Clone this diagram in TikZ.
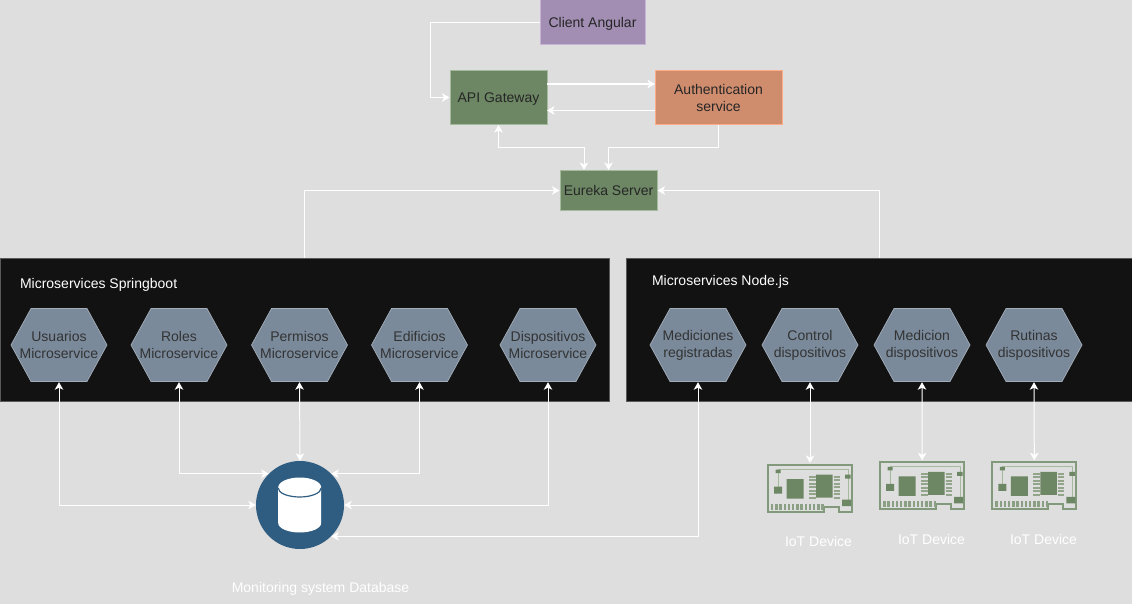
\documentclass[tikz,border=0pt]{standalone}
\usepackage{fontspec}
\setmainfont{Liberation Sans}
\usetikzlibrary{arrows.meta}
\definecolor{pagegray}{HTML}{DEDEDE}
\definecolor{chipgreen}{HTML}{6D8764}
\definecolor{chiplight}{HTML}{A5BA9D}
\definecolor{hexfill}{HTML}{7A8A9B}
\definecolor{clientfill}{HTML}{A28DB3}
\definecolor{clientline}{HTML}{C6B3D6}
\definecolor{authfill}{HTML}{D08D6E}
\definecolor{authline}{HTML}{FFAB87}
\definecolor{dbblue}{HTML}{2F5D82}
\tikzset{
  wire/.style={draw=white, line width=1pt, -{Stealth[length=7.5pt,width=8.5pt,inset=2pt]}},
  dblwire/.style={wire, {Stealth[length=7.5pt,width=8.5pt,inset=2pt]}-{Stealth[length=7.5pt,width=8.5pt,inset=2pt]}},
  greenbox/.style={draw=chiplight, fill=chipgreen, line width=1pt, minimum width=97pt, text=black!85},
  servicehex/.style={minimum width=97pt, minimum height=74pt, inner sep=0pt, align=center, text=black!80,
    path picture={
      \draw[draw=hexfill!70!white, fill=hexfill, line width=.7pt]
        ([xshift=.5pt]path picture bounding box.west)
        -- ([xshift=-28pt,yshift=-.5pt]path picture bounding box.north)
        -- ([xshift=28pt,yshift=-.5pt]path picture bounding box.north)
        -- ([xshift=-.5pt]path picture bounding box.east)
        -- ([xshift=28pt,yshift=.5pt]path picture bounding box.south)
        -- ([xshift=-28pt,yshift=.5pt]path picture bounding box.south)
        -- cycle;
    }},
  panel/.style={draw=black!65, fill=black!93, line width=1pt, minimum height=143pt},
  paneltitle/.style={text=white, anchor=west},
  whitelabel/.style={text=white},
  devicebox/.style={minimum width=84pt, minimum height=47pt, inner sep=0pt, outer sep=2pt},
  iotchip/.pic={
    \begin{scope}[shift={(-42,-23.5)}]
    \draw[chipgreen!85!white, line width=2pt, fill=pagegray]
      (0,0) -- (84,0) -- (84,47) -- (71,47) -- (71,41.5) -- (56,41.5) -- (56,47) -- (0,47) -- cycle;
    \draw[chiplight, line width=1pt] (10,4) -- (80,4) -- (80,36);
    \draw[chiplight, line width=1pt] (10,6) -- (10,23);
    \fill[chipgreen] (7.5,4.5) rectangle (12.5,8) (77,9.5) rectangle (82.5,13.5) (6,21.5) rectangle (14,28.5)
      (18.5,14) rectangle (35.5,33.5) (48,9.5) rectangle (64.5,32.5) (74,34.5) rectangle (83,41);
    \foreach \i in {0,...,6} {
      \fill[chipgreen!75!white] (41,10.5+3.5*\i) rectangle (47.5,12.6+3.5*\i);
      \fill[chipgreen!75!white] (65.5,10.5+3.5*\i) rectangle (72,12.6+3.5*\i);
    }
    \foreach \i in {0,...,12} {
      \fill[chipgreen!80!white] (3+4.2*\i,38.5) rectangle (5.4+4.2*\i,45);
    }
    \end{scope}
  }
}
\begin{document}
\begin{tikzpicture}[x=1pt, y=-1pt, every node/.style={font=\fontsize{14}{17}\selectfont}]
  \useasboundingbox (0,0) rectangle (1132,604);
  \fill[pagegray] (0,0) rectangle (1132,604);

  % top boxes
  \node[draw=clientline, fill=clientfill, line width=1pt, minimum width=105pt, minimum height=45pt,
    text depth=0pt, text=black!85] (client) at (592.5,22.5) {Client Angular};
  \node[greenbox, minimum height=54pt, text depth=0pt] (gateway) at (498.5,97.5) {API Gateway};
  \node[draw=authline, fill=authfill, line width=1pt,
    minimum width=127pt, minimum height=54pt, align=center, text=black!85] (auth) at (718.5,97.5) {Authentication\\service};
  \node[greenbox, minimum height=40pt] (eureka) at (608.5,190.5) {Eureka Server};

  % panels
  \node[panel, minimum width=609pt] (spring) at (304.5,329.5) {};
  \node[panel, minimum width=506pt] (nodejs) at (879,329.5) {};
  \node[paneltitle] (springtitle) at (16.5,285) {Microservices Springboot};
  \node[paneltitle] (nodetitle) at (648.5,282) {Microservices Node.js};

  % services
  \node[servicehex] (usuarios) at (59,345) {Usuarios\\Microservice};
  \node[servicehex] (roles) at (179,345) {Roles\\Microservice};
  \node[servicehex] (permisos) at (299.5,345) {Permisos\\Microservice};
  \node[servicehex] (edificios) at (419.5,345) {Edificios\\Microservice};
  \node[servicehex] (dispositivos) at (548,345) {Dispositivos\\Microservice};
  \node[servicehex] (mediciones) at (698,345) {Mediciones\\registradas};
  \node[servicehex] (control) at (810,345) {Control\\dispositivos};
  \node[servicehex] (medicion) at (922,345) {Medicion\\dispositivos};
  \node[servicehex] (rutinas) at (1034,345) {Rutinas\\dispositivos};

  % database
  \node[circle, fill=dbblue, minimum size=88pt, inner sep=0pt] (db) at (300,505) {};
  \fill[white] (278.2,487.5) arc[start angle=180, end angle=360, x radius=21.5, y radius=10]
    -- (321.2,523) arc[start angle=0, end angle=180, x radius=21.5, y radius=9.5] -- cycle;
  \draw[dbblue, line width=1.2pt] (278.2,488) arc[start angle=180, end angle=0, x radius=21.5, y radius=9];
  \node[whitelabel] (dblabel) at (320.5,589) {Monitoring system Database};

  % devices
  \node[devicebox] (deva) at (810,488.5) {};
  \node[devicebox] (devb) at (922.2,485.8) {};
  \node[devicebox] (devc) at (1034.3,485.8) {};
  \pic at (deva) {iotchip};
  \pic at (devb) {iotchip};
  \pic at (devc) {iotchip};
  \node[whitelabel] (labela) at (818.5,541.5) {IoT Device};
  \node[whitelabel] (labelb) at (931.5,539.5) {IoT Device};
  \node[whitelabel] (labelc) at (1043.5,539.5) {IoT Device};

  % connectors
  \coordinate (eurekaleft) at (584,170);
  \coordinate (clientbend) at (430,97.5);
  \coordinate (gatewayout) at (547,84);
  \coordinate (authin) at (655,84);
  \coordinate (authout) at (655,110.5);
  \coordinate (gatewayin) at (547,110.5);
  \draw[wire] (client.west) -| (clientbend) -- (gateway.west);
  \draw[wire, line width=1.3pt] (gatewayout) -- (authin);
  \draw[wire, line width=1.3pt] (authout) -- (gatewayin);
  \draw[dblwire] (gateway.south) -- ++(0,23) -| (eurekaleft);
  \draw[wire] (auth.south) -- ++(0,23) -| (eureka.north);
  \draw[wire] (spring.north) |- (eureka.west);
  \draw[wire] (nodejs.north) |- (eureka.east);

  \draw[dblwire] (usuarios.south) |- (db.west);
  \draw[dblwire] (roles.south) |- (db.135);
  \draw[dblwire] (permisos.south) -- (db.north);
  \draw[dblwire] (edificios.south) |- (db.45);
  \draw[dblwire] (dispositivos.south) |- (db.east);
  \draw[dblwire] (mediciones.south) |- (db.-45);
  \draw[dblwire] (control.south) -- (deva.north);
  \draw[dblwire] (medicion.south) -- (devb.north);
  \draw[dblwire] (rutinas.south) -- (devc.north);
\end{tikzpicture}
\end{document}
